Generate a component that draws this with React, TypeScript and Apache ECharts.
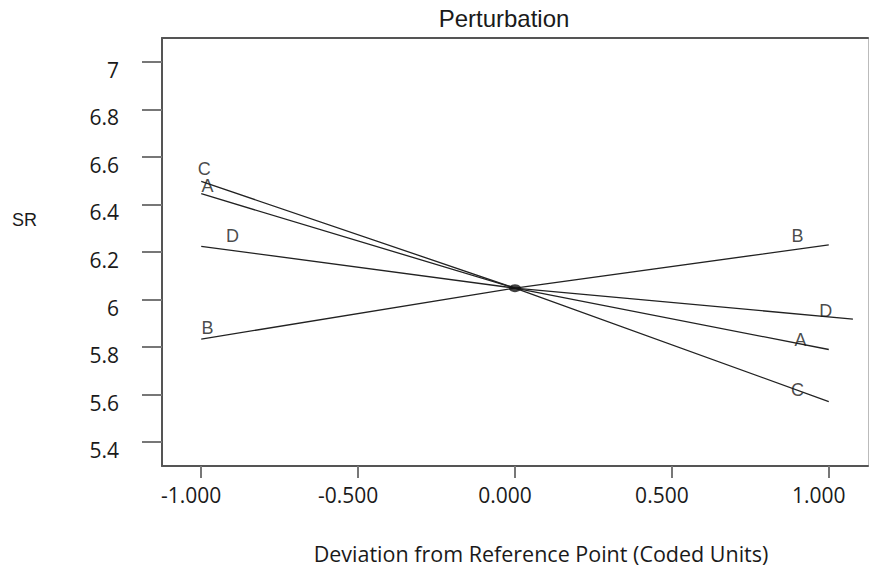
import React, { useEffect, useRef } from "react";
import * as echarts from "echarts";

// Perturbation of SR around the reference point, per factor
const factors = ["A", "B", "C", "D"];
const deviationX: Record<string, number[]> = {
  A: [-1, 0, 1],
  B: [-1, 0, 1],
  C: [-1, 0, 1],
  D: [-1, 0, 1.077],
};
const srValues: Record<string, number[]> = {
  A: [6.445, 6.048, 5.79],
  B: [5.834, 6.048, 6.23],
  C: [6.497, 6.048, 5.571],
  D: [6.224, 6.048, 5.918],
};
const referencePoint = [0, 6.048];

// where each factor letter sits along its trace, and how far it is lifted (px)
const labelAt: Record<string, { x: number; lift: number }[]> = {
  A: [{ x: -0.98, lift: 10 }, { x: 0.91, lift: 4 }],
  B: [{ x: -0.98, lift: 10 }, { x: 0.9, lift: 13 }],
  C: [{ x: -0.99, lift: 13 }, { x: 0.9, lift: 0 }],
  D: [{ x: -0.9, lift: 14 }, { x: 0.99, lift: 6 }],
};

const xTicks = [-1, -0.5, 0, 0.5, 1];
const yTicks = [5.4, 5.6, 5.8, 6, 6.2, 6.4, 6.6, 6.8, 7];

function interp(xs: number[], ys: number[], x: number): number {
  for (let i = 0; i < xs.length - 1; i++) {
    if (x >= xs[i] && x <= xs[i + 1]) {
      const t = (x - xs[i]) / (xs[i + 1] - xs[i]);
      return ys[i] + t * (ys[i + 1] - ys[i]);
    }
  }
  return x < xs[0] ? ys[0] : ys[ys.length - 1];
}

const tickFont = "'Open Sans', 'Noto Sans', sans-serif";
const arial = "'Liberation Sans', Arial, sans-serif";
const ink = "#1a1a1a";

export default function App() {
  const ref = useRef<HTMLDivElement>(null);

  useEffect(() => {
    if (!ref.current) return;
    const chart = echarts.init(ref.current, undefined, { renderer: "svg" });

    const lineSeries = factors.map((f) => ({
      type: "line",
      name: f,
      data: deviationX[f].map((x, i) => [x, srValues[f][i]]),
      showSymbol: false,
      symbol: "none",
      lineStyle: { color: "#222", width: 1.3 },
      silent: true,
      z: 2,
    }));

    const labelSeries = factors.map((f) => ({
      type: "scatter",
      name: f + "-label",
      symbolSize: 0,
      silent: true,
      z: 4,
      data: labelAt[f].map((p) => ({
        value: [p.x, interp(deviationX[f], srValues[f], p.x)],
        label: {
          show: true,
          position: "inside",
          offset: [0, -p.lift],
          formatter: f,
          color: ink,
          fontFamily: arial,
          fontSize: 18,
        },
      })),
    }));

    chart.setOption({
      animation: false,
      title: {
        text: "Perturbation",
        left: 499,
        textAlign: "center",
        top: 1,
        textStyle: {
          fontFamily: arial,
          fontSize: 24,
          fontWeight: "normal",
          color: ink,
        },
      },
      graphic: [
        {
          type: "text",
          left: 12,
          top: 211,
          style: {
            text: "SR",
            fontFamily: arial,
            fontSize: 18,
            fill: ink,
          },
        },
      ],
      grid: { left: 162, top: 38, right: 1, bottom: 101, containLabel: false },
      xAxis: [
        {
          type: "value",
          min: -1.125,
          max: 1.125,
          position: "bottom",
          splitLine: { show: false },
          axisLine: { onZero: false, lineStyle: { color: "#555", width: 2 } },
          axisTick: {
            show: true,
            length: 12,
            customValues: xTicks,
            lineStyle: { color: "#777", width: 2 },
          },
          axisLabel: {
            customValues: xTicks,
            formatter: (v: number) => v.toFixed(3),
            fontFamily: tickFont,
            fontSize: 21,
            color: ink,
            margin: 18,
            padding: [0, 20, 0, 0],
          },
          name: "Deviation from Reference Point (Coded Units)",
          nameLocation: "middle",
          nameGap: 76,
          nameTextStyle: {
            fontFamily: tickFont,
            fontSize: 21.5,
            color: ink,
            padding: [0, 0, 0, 52],
          },
        },
        {
          type: "value",
          min: -1.125,
          max: 1.125,
          position: "top",
          splitLine: { show: false },
          axisLine: { show: true, onZero: false, lineStyle: { color: "#555", width: 2 } },
          axisTick: { show: false },
          axisLabel: { show: false },
        },
      ],
      yAxis: [
        {
          type: "value",
          min: 5.3,
          max: 7.1,
          position: "left",
          splitLine: { show: false },
          axisLine: { show: true, onZero: false, lineStyle: { color: "#555", width: 2 } },
          axisTick: {
            show: true,
            length: 20,
            customValues: yTicks,
            lineStyle: { color: "#777", width: 2 },
          },
          axisLabel: {
            customValues: yTicks,
            formatter: (v: number) => String(parseFloat(v.toFixed(1))),
            fontFamily: tickFont,
            fontSize: 21,
            color: ink,
            margin: 43,
            verticalAlign: "top",
            lineHeight: 16,
          },
        },
        {
          type: "value",
          min: 5.3,
          max: 7.1,
          position: "right",
          splitLine: { show: false },
          axisLine: { show: true, onZero: false, lineStyle: { color: "#bbb", width: 1 } },
          axisTick: { show: false },
          axisLabel: { show: false },
        },
      ],
      series: [
        ...lineSeries,
        ...labelSeries,
        {
          type: "scatter",
          name: "reference",
          data: [referencePoint],
          symbol: "circle",
          symbolSize: [12, 8],
          itemStyle: { color: "#111" },
          silent: true,
          z: 5,
        },
      ],
    });

    return () => chart.dispose();
  }, []);

  return (
    <div
      ref={ref}
      style={{ position: "absolute", left: 0, top: 0, width: 869, height: 569 }}
    />
  );
}
